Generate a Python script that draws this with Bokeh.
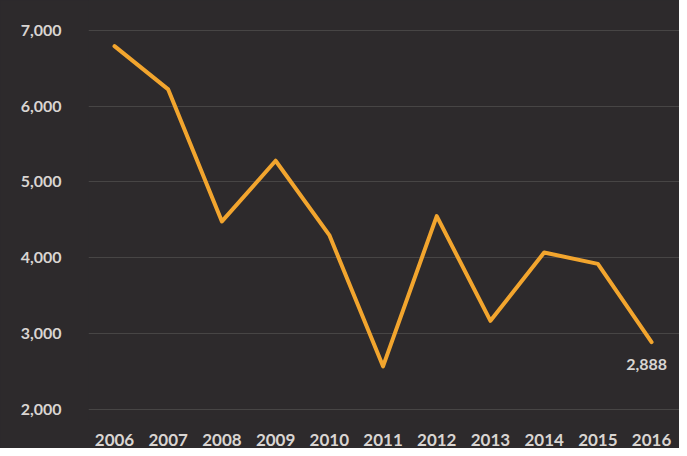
from bokeh.plotting import figure
from bokeh.models import Range1d, FixedTicker, NumeralTickFormatter
from bokeh.core.properties import value
from bokeh.embed import file_html
from bokeh.resources import INLINE

years = [2006, 2007, 2008, 2009, 2010, 2011, 2012, 2013, 2014, 2015, 2016]
counts = [6790, 6220, 4480, 5280, 4300, 2570, 4550, 3170, 4070, 3920, 2888]
y_ticks = [2000, 3000, 4000, 5000, 6000, 7000]
last_label = "2,888"

W, H = 679, 448
p = figure(width=W, height=H, output_backend="svg", toolbar_location=None,
           x_range=Range1d(2005.516, 2016.52), y_range=Range1d(1869, 7392),
           min_border_left=88, min_border_right=0, min_border_top=0, min_border_bottom=25)

bg = "#2d2a2c"
p.background_fill_color = bg
p.border_fill_color = bg
p.outline_line_color = None
p.styles = {"background-color": bg}

tick_color = "#d9d5d2"
font = "Lato"

p.yaxis.ticker = FixedTicker(ticks=y_ticks)
p.yaxis.formatter = NumeralTickFormatter(format="0,0")
p.xaxis.ticker = FixedTicker(ticks=years)
for ax in (p.xaxis, p.yaxis):
    ax.axis_line_color = None
    ax.major_tick_line_color = None
    ax.minor_tick_line_color = None
    ax.major_label_text_color = tick_color
    ax.major_label_text_font = font
    ax.major_label_text_font_style = "bold"
p.yaxis.major_label_text_font_size = "16px"
p.xaxis.major_label_text_font_size = "17px"
p.yaxis.major_label_standoff = 21
p.xaxis.major_label_standoff = 8

p.xgrid.grid_line_color = None
p.ygrid.grid_line_color = "#474545"
p.ygrid.grid_line_width = 1

p.line(years, counts, line_color="#f2a52e", line_width=4, line_join="round", line_cap="round")

p.text(x=[years[-1]], y=[counts[-1]], text=[last_label], text_color=tick_color,
       text_font=value(font), text_font_size="16px", text_font_style="bold",
       text_align="center", text_baseline="top", x_offset=-5, y_offset=17)

open("out.html", "w").write(file_html(p, INLINE))
